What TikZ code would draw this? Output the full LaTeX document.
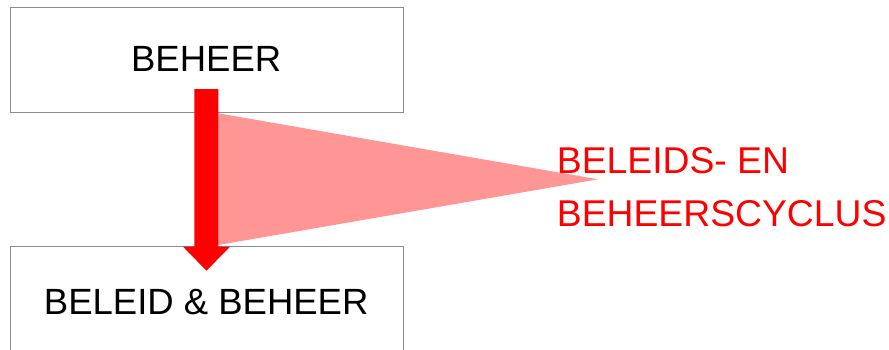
\documentclass[tikz,border=0pt]{standalone}
\usepackage{fontspec}
\setmainfont{Liberation Sans}
\definecolor{boxgray}{RGB}{140,140,140}
\definecolor{wedgepink}{RGB}{255,150,150}
\tikzset{
  box/.style={draw=boxgray, line width=1pt, minimum width=393pt, inner sep=0pt, outer sep=0pt},
  boxtext/.style={anchor=base, font=\fontsize{36.5}{40}\selectfont, text=black, inner sep=0pt},
  redtext/.style={anchor=base west, font=\fontsize{37.3}{40}\selectfont, text=red, inner sep=0pt},
}
\begin{document}
\begin{tikzpicture}[x=1pt,y=-1pt]
\useasboundingbox (0,0) rectangle (889,349);
\clip (0,0) rectangle (889,349);
% boxes
\node[box, minimum height=105pt] (top) at (206.5,59.5) {};
\node[box, minimum height=108pt] (bottom) at (206.5,300) {};
% texts
\node[boxtext] (toptext) at (206.2,71) {BEHEER};
\node[boxtext] (bottomtext) at (206.2,314) {BELEID \& BEHEER};
% wedge
\coordinate (apex) at (598,179.3);
\fill[wedgepink] (218.3,113.3) -- (apex) -- (218.3,245) -- cycle;
% block arrow
\fill[red] (194.3,89) -- (218.3,89) -- (218.3,246.7) -- (230,246.7) -- (206.5,270.7) -- (183,246.7) -- (194.3,246.7) -- cycle;
% red label
\node[redtext] (lab1) at (556.7,173.3) {BELEIDS- EN};
\node[redtext] (lab2) at (556.7,226.7) {BEHEERSCYCLUS};
\end{tikzpicture}
\end{document}
